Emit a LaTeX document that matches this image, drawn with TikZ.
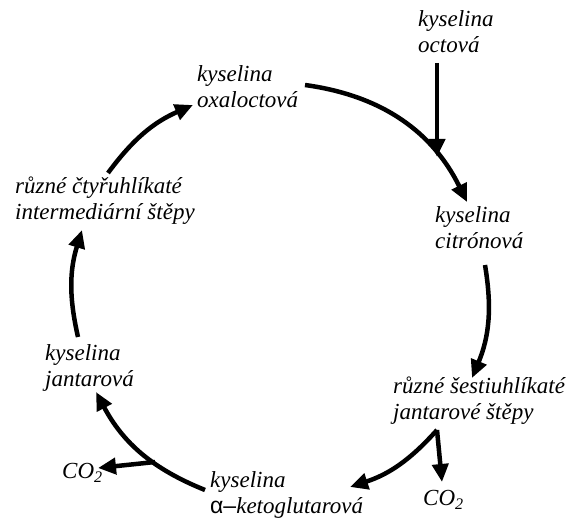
\documentclass[tikz,border=0pt]{standalone}
\usepackage{fontspec}
\setmainfont{Liberation Serif}
\newfontfamily\alphafont{Liberation Sans}
\usetikzlibrary{arrows.meta}

\tikzset{
  lbl/.style={anchor=west, align=left, inner sep=0pt,
    font=\itshape\fontsize{23}{26}\selectfont},
  cyc/.style={line width=4.5pt, -{Triangle[length=18pt,width=16pt]}},
}

\begin{document}
\begin{tikzpicture}[x=1pt,y=-1pt]
\useasboundingbox (0,0) rectangle (575,518);

% latky
\node[lbl] (octova) at (418,32) {kyselina\\octová};
\node[lbl] (oxal) at (197,87) {kyselina\\oxaloctová};
\node[lbl] (citr) at (435,228) {kyselina\\citrónová};
\node[lbl] (sest) at (393,401) {různé šestiuhlíkaté\\jantarové štěpy};
\node[lbl] (keto) at (210,495) {kyselina\\{\upshape\alphafont α–}ketoglutarová};
\node[lbl] (jant) at (45,368) {kyselina\\jantarová};
\node[lbl] (ctyr) at (15,201) {různé čtyřuhlíkaté\\intermediární štěpy};
\node[lbl] (co2a) at (62,473) {CO\textsubscript{2}};
\node[lbl] (co2b) at (423,500) {CO\textsubscript{2}};

% konce sipek
\coordinate (v1) at (437,63);  \coordinate (v2) at (437,157);
\coordinate (a1) at (305,85);  \coordinate (b1) at (467,202);
\coordinate (a2) at (485,265); \coordinate (b2) at (472,378);
\coordinate (br) at (437,430); \coordinate (b3) at (350,487);
\coordinate (c3) at (442,482);
\coordinate (a4) at (205,490); \coordinate (b4) at (96,392);
\coordinate (m4) at (155,462); \coordinate (c4) at (98,468);
\coordinate (a5) at (78,337);  \coordinate (b5) at (82,230);
\coordinate (a6) at (108,173); \coordinate (b6) at (193,105);

% cyklus
\draw[cyc] (a1) to[bend left=28] (b1);
\draw[cyc] (v1) -- (v2);
\draw[cyc] (a2) to[bend left=16] (b2);
\draw[cyc] (br) to[bend left=15] (b3);
\draw[cyc] (br) -- (c3);
\draw[cyc] (a4) to[bend left=20] (b4);
\draw[cyc] (m4) -- (c4);
\draw[cyc] (a5) to[bend left=15] (b5);
\draw[cyc] (a6) to[bend left=15] (b6);
\end{tikzpicture}
\end{document}
